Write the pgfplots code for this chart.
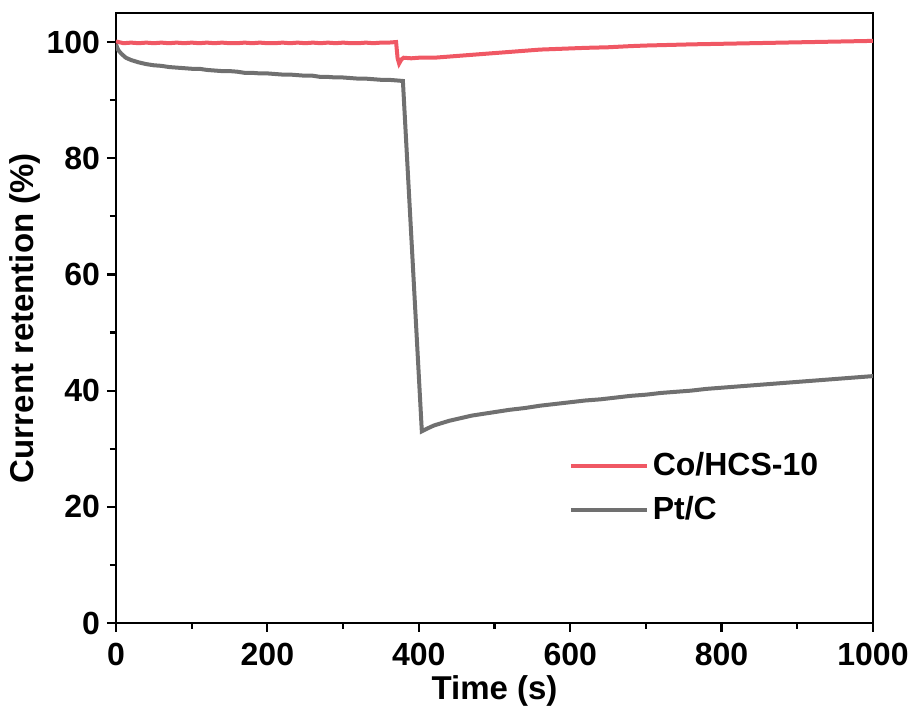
\documentclass[border=0pt]{standalone}
\usepackage{pgfplots}
\pgfplotsset{compat=1.18}
\usepackage{fontspec}
\setmainfont{Liberation Sans}
\definecolor{cored}{RGB}{240,88,100}
\definecolor{ptgray}{RGB}{112,112,112}
\begin{document}
\begin{tikzpicture}
\begin{axis}[
  scale only axis,
  width=378.5pt, height=305pt,
  xmin=0, xmax=1000, ymin=0, ymax=105,
  xtick={0,200,...,1000}, ytick={0,20,...,100},
  minor x tick num=1, minor y tick num=1,
  tick pos=left, tick align=outside,
  major tick length=4.5pt, minor tick length=3pt,
  axis line style={line width=1.1pt},
  every tick/.style={line width=1.1pt, black},
  /pgf/number format/assume math mode=true,
  /pgf/number format/1000 sep={},
  ticklabel style={font=\bfseries\fontsize{16}{18}\selectfont},
  xticklabel style={yshift=-2pt},
  label style={font=\bfseries\fontsize{16.5}{18}\selectfont},
  xlabel={Time (s)}, ylabel={Current retention (\%)},
  xlabel style={yshift=2pt},
  ylabel style={yshift=-4pt},
  legend style={at={(rel axis cs:0.595,0.29)}, anchor=north west, draw=none, fill=none,
    font=\bfseries\fontsize{16}{18}\selectfont, row sep=5pt, inner sep=1pt},
  legend cell align=left,
  legend image code/.code={\draw[#1, line width=2pt] (0pt,0pt) -- (38pt,0pt);},
]
\addplot[cored, line width=2pt] coordinates {
(0,100.1) (10,99.8) (20,99.9) (30,99.8) (40,99.9) (50,99.8) (60,99.9) (70,99.8)
(80,99.9) (90,99.8) (100,99.9) (110,99.8) (120,99.9) (130,99.8) (140,99.9)
(150,99.8) (160,99.8) (170,99.9) (180,99.8) (190,99.9) (200,99.8) (210,99.8)
(220,99.9) (230,99.8) (240,99.9) (250,99.8) (260,99.9) (270,99.8) (280,99.9)
(290,99.8) (300,99.9) (310,99.8) (320,99.8) (330,99.9) (340,99.8) (350,99.9)
(360,99.9) (370,100.0) (372,97.2) (374,96.3) (377,97.0) (380,97.3) (390,97.2)
(400,97.3) (420,97.3) (440,97.5) (460,97.7) (480,97.9) (500,98.1) (520,98.3)
(540,98.5) (560,98.7) (580,98.8) (600,98.9) (620,99.0) (650,99.1) (680,99.3)
(700,99.4) (730,99.5) (760,99.6) (800,99.7) (840,99.8) (880,99.9) (920,100.0)
(960,100.1) (1000,100.2)
};
\addlegendentry{Co/HCS-10}
\addplot[ptgray, line width=2pt] coordinates {
(0,99.6) (3,98.6) (7,98.0) (13,97.3) (20,96.9) (30,96.5) (40,96.2) (50,96.0)
(60,95.9) (70,95.7) (80,95.6) (90,95.5) (100,95.4) (110,95.4) (120,95.2)
(130,95.1) (140,95.0) (150,95.0) (160,94.9) (170,94.7) (180,94.7) (190,94.6)
(200,94.6) (210,94.5) (220,94.4) (230,94.4) (240,94.3) (250,94.2) (260,94.2)
(270,94.0) (280,94.0) (290,93.9) (300,93.9) (310,93.8) (320,93.7) (330,93.7)
(340,93.6) (350,93.5) (360,93.5) (370,93.4) (379,93.3) (404,33.0) (410,33.4)
(420,34.0) (430,34.4) (440,34.8) (450,35.1) (460,35.4) (470,35.7) (480,35.9)
(490,36.1) (500,36.3) (520,36.7) (540,37.0) (560,37.4) (580,37.7) (600,38.0)
(620,38.3) (640,38.5) (660,38.8) (680,39.1) (700,39.3) (720,39.6) (740,39.8)
(760,40.0) (780,40.3) (800,40.5) (820,40.7) (840,40.9) (860,41.1) (880,41.3)
(900,41.5) (920,41.7) (940,41.9) (960,42.1) (980,42.3) (1000,42.5)
};
\addlegendentry{Pt/C}
\end{axis}
\path ([xshift=-58pt,yshift=-47.5pt]current axis.south west) rectangle ([xshift=22pt,yshift=6.5pt]current axis.north east);
\end{tikzpicture}
\end{document}
